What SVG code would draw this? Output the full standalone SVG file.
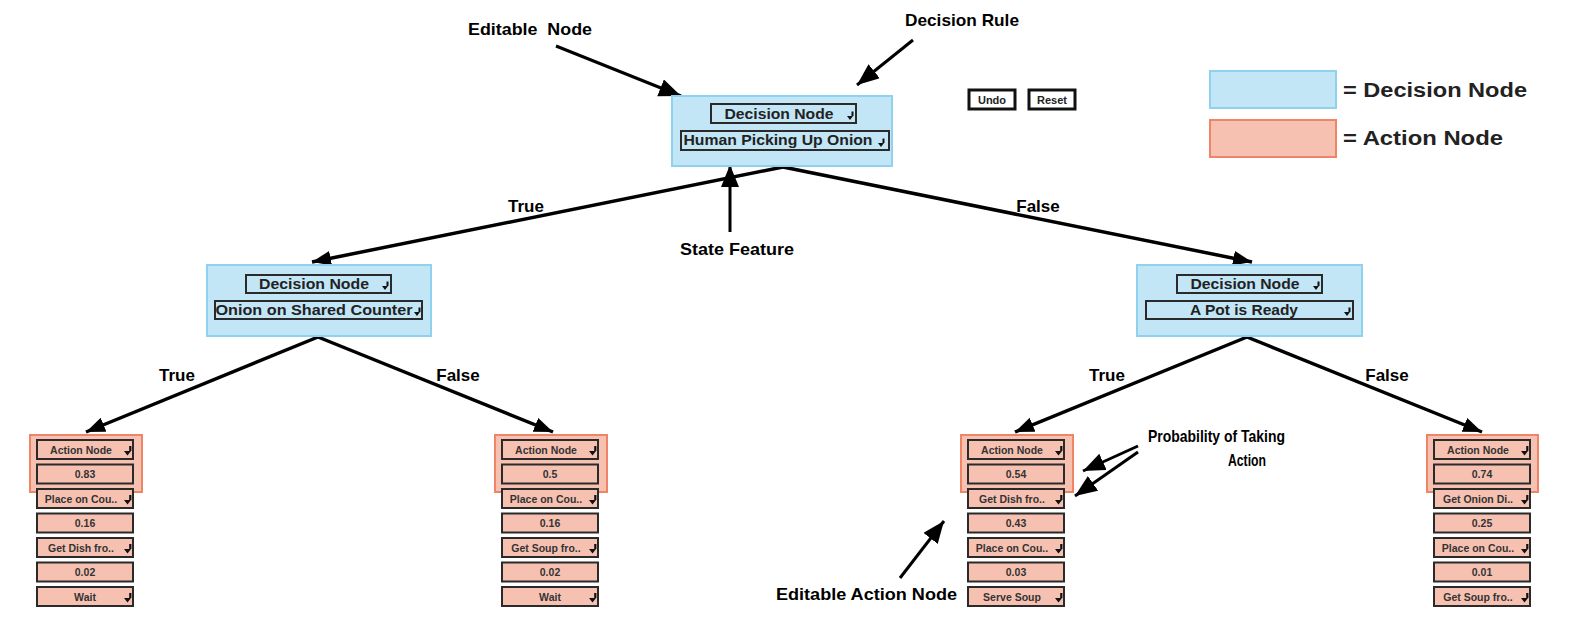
<svg xmlns="http://www.w3.org/2000/svg" width="1571" height="642" viewBox="0 0 1571 642">
<style>
.dec{fill:#c3e6f6;stroke:#8fd2f0;stroke-width:2}
.act{fill:#f7c1b1;stroke:#f08466;stroke-width:2}
.dd{fill:none;stroke:#2a2a2a;stroke-width:2}
.ddf{fill:#f7c1b1;stroke:#2a2a2a;stroke-width:2}
.t{font-family:"Liberation Sans",Arial,sans-serif;font-weight:bold;fill:#222}
.dt{font-size:15px;text-anchor:middle}
.at{font-size:10.5px;text-anchor:middle;fill:#333}
.lbl{font-family:"Liberation Sans",Arial,sans-serif;font-weight:bold;font-size:17px;fill:#000;white-space:pre}
.br{stroke:#000;stroke-width:3.5;fill:none}
.an{stroke:#000;stroke-width:3;fill:none}
.btn{fill:#fff;stroke:#111;stroke-width:3}
</style>
<defs>
<marker id="ah" markerUnits="userSpaceOnUse" markerWidth="22" markerHeight="16" refX="19" refY="7.5" orient="auto"><path d="M0,0 L19,7.5 L0,15 z" fill="#000"/></marker>
<marker id="ah2" markerUnits="userSpaceOnUse" markerWidth="24" markerHeight="20" refX="22" refY="9" orient="auto"><path d="M0,0 L22,9 L0,18 z" fill="#000"/></marker>
<path id="caret" d="M0,0h6l-3,4z M4.5,-4.5h2v4.5h-2z" fill="#111"/>
<path id="caret2" d="M0,0h7l-3.5,4.5z M5.2,-5h2.2v5h-2.2z" fill="#111"/>
</defs>

<g id="connectors">
<line class="br" x1="783" y1="167" x2="312" y2="262" marker-end="url(#ah)"/>
<line class="br" x1="783" y1="167" x2="1252" y2="262" marker-end="url(#ah)"/>
<line class="br" x1="318" y1="337" x2="86" y2="432" marker-end="url(#ah)"/>
<line class="br" x1="318" y1="337" x2="553" y2="432" marker-end="url(#ah)"/>
<line class="br" x1="1247" y1="337" x2="1015" y2="432" marker-end="url(#ah)"/>
<line class="br" x1="1247" y1="337" x2="1482" y2="432" marker-end="url(#ah)"/>
<text class="lbl" x="526" y="212" text-anchor="middle">True</text>
<text class="lbl" x="1038" y="212" text-anchor="middle">False</text>
<text class="lbl" x="177" y="381" text-anchor="middle">True</text>
<text class="lbl" x="458" y="381" text-anchor="middle">False</text>
<text class="lbl" x="1107" y="381" text-anchor="middle">True</text>
<text class="lbl" x="1387" y="381" text-anchor="middle">False</text>
</g>

<g id="annotations">
<line class="an" x1="556" y1="46" x2="681" y2="96" marker-end="url(#ah2)"/>
<text class="lbl" x="468" y="35" textLength="124" lengthAdjust="spacingAndGlyphs" xml:space="preserve">Editable  Node</text>
<line class="an" x1="913" y1="40" x2="857" y2="85" marker-end="url(#ah2)"/>
<text class="lbl" x="905" y="26" textLength="114" lengthAdjust="spacingAndGlyphs">Decision Rule</text>
<line class="an" x1="730" y1="232" x2="730" y2="165" marker-end="url(#ah2)"/>
<text class="lbl" x="680" y="255" textLength="114" lengthAdjust="spacingAndGlyphs">State Feature</text>
<line class="an" x1="1138" y1="446" x2="1083" y2="471" marker-end="url(#ah2)"/>
<line class="an" x1="1138" y1="452" x2="1075" y2="496" marker-end="url(#ah2)"/>
<text class="lbl" x="1148" y="442" textLength="137" lengthAdjust="spacingAndGlyphs">Probability of Taking</text>
<text class="lbl" x="1228" y="466" textLength="38" lengthAdjust="spacingAndGlyphs">Action</text>
<line class="an" x1="900" y1="578" x2="944" y2="521" marker-end="url(#ah2)"/>
<text class="lbl" x="776" y="600" textLength="181" lengthAdjust="spacingAndGlyphs">Editable Action Node</text>
</g>

<g id="legend">
<rect class="dec" x="1210" y="71" width="126" height="37"/>
<rect class="act" x="1210" y="120" width="126" height="37"/>
<text class="t" x="1343" y="97" font-size="20" textLength="184" lengthAdjust="spacingAndGlyphs" fill="#111">= Decision Node</text>
<text class="t" x="1343" y="145" font-size="20" textLength="160" lengthAdjust="spacingAndGlyphs" fill="#111">= Action Node</text>
</g>

<g id="buttons">
<rect class="btn" x="969" y="90" width="46" height="19"/>
<text class="t" x="992" y="104" font-size="11" text-anchor="middle">Undo</text>
<rect class="btn" x="1029" y="90" width="46" height="19"/>
<text class="t" x="1052" y="104" font-size="11" text-anchor="middle">Reset</text>
</g>

<g id="node-root">
<rect class="dec" x="672" y="96" width="220" height="70"/>
<rect class="dd" x="711" y="104" width="145" height="19"/>
<text class="t dt" x="779" y="119" textLength="109" lengthAdjust="spacingAndGlyphs">Decision Node</text>
<use href="#caret" x="847" y="116"/>
<rect class="dd" x="681" y="131" width="208" height="19"/>
<text class="t dt" x="778" y="145" textLength="189" lengthAdjust="spacingAndGlyphs">Human Picking Up Onion</text>
<use href="#caret" x="878" y="143"/>
</g>

<g id="node-left">
<rect class="dec" x="207" y="265" width="224" height="71"/>
<rect class="dd" x="246" y="275" width="145" height="18"/>
<text class="t dt" x="314" y="289" textLength="110" lengthAdjust="spacingAndGlyphs">Decision Node</text>
<use href="#caret" x="382" y="286"/>
<rect class="dd" x="215" y="301" width="207" height="18"/>
<text class="t dt" x="314" y="315" textLength="197" lengthAdjust="spacingAndGlyphs">Onion on Shared Counter</text>
<use href="#caret" x="414" y="312"/>
</g>

<g id="node-right">
<rect class="dec" x="1137" y="265" width="225" height="71"/>
<rect class="dd" x="1177" y="275" width="145" height="18"/>
<text class="t dt" x="1245" y="289" textLength="109" lengthAdjust="spacingAndGlyphs">Decision Node</text>
<use href="#caret" x="1313" y="286"/>
<rect class="dd" x="1146" y="301" width="207" height="18"/>
<text class="t dt" x="1244" y="315" textLength="108" lengthAdjust="spacingAndGlyphs">A Pot is Ready</text>
<use href="#caret" x="1344" y="312"/>
</g>

<g id="action-1">
<rect class="act" x="30" y="435" width="112" height="57"/>
<rect class="ddf" x="37" y="440" width="96" height="19"/><text class="t at" x="81" y="453.5">Action Node</text><use href="#caret2" x="124" y="451"/>
<rect class="ddf" x="37" y="464.5" width="96" height="19"/><text class="t at" x="85" y="478">0.83</text>
<rect class="ddf" x="37" y="489" width="96" height="19"/><text class="t at" x="81" y="502.5">Place on Cou..</text><use href="#caret2" x="124" y="500"/>
<rect class="ddf" x="37" y="513.5" width="96" height="19"/><text class="t at" x="85" y="527">0.16</text>
<rect class="ddf" x="37" y="538" width="96" height="19"/><text class="t at" x="81" y="551.5">Get Dish fro..</text><use href="#caret2" x="124" y="549"/>
<rect class="ddf" x="37" y="562.5" width="96" height="19"/><text class="t at" x="85" y="576">0.02</text>
<rect class="ddf" x="37" y="587" width="96" height="19"/><text class="t at" x="85" y="600.5">Wait</text><use href="#caret2" x="124" y="598"/>
</g>

<g id="action-2">
<rect class="act" x="495" y="435" width="112" height="57"/>
<rect class="ddf" x="502" y="440" width="96" height="19"/><text class="t at" x="546" y="453.5">Action Node</text><use href="#caret2" x="589" y="451"/>
<rect class="ddf" x="502" y="464.5" width="96" height="19"/><text class="t at" x="550" y="478">0.5</text>
<rect class="ddf" x="502" y="489" width="96" height="19"/><text class="t at" x="546" y="502.5">Place on Cou..</text><use href="#caret2" x="589" y="500"/>
<rect class="ddf" x="502" y="513.5" width="96" height="19"/><text class="t at" x="550" y="527">0.16</text>
<rect class="ddf" x="502" y="538" width="96" height="19"/><text class="t at" x="546" y="551.5">Get Soup fro..</text><use href="#caret2" x="589" y="549"/>
<rect class="ddf" x="502" y="562.5" width="96" height="19"/><text class="t at" x="550" y="576">0.02</text>
<rect class="ddf" x="502" y="587" width="96" height="19"/><text class="t at" x="550" y="600.5">Wait</text><use href="#caret2" x="589" y="598"/>
</g>

<g id="action-3">
<rect class="act" x="961" y="435" width="112" height="57"/>
<rect class="ddf" x="968" y="440" width="96" height="19"/><text class="t at" x="1012" y="453.5">Action Node</text><use href="#caret2" x="1055" y="451"/>
<rect class="ddf" x="968" y="464.5" width="96" height="19"/><text class="t at" x="1016" y="478">0.54</text>
<rect class="ddf" x="968" y="489" width="96" height="19"/><text class="t at" x="1012" y="502.5">Get Dish fro..</text><use href="#caret2" x="1055" y="500"/>
<rect class="ddf" x="968" y="513.5" width="96" height="19"/><text class="t at" x="1016" y="527">0.43</text>
<rect class="ddf" x="968" y="538" width="96" height="19"/><text class="t at" x="1012" y="551.5">Place on Cou..</text><use href="#caret2" x="1055" y="549"/>
<rect class="ddf" x="968" y="562.5" width="96" height="19"/><text class="t at" x="1016" y="576">0.03</text>
<rect class="ddf" x="968" y="587" width="96" height="19"/><text class="t at" x="1012" y="600.5">Serve Soup</text><use href="#caret2" x="1055" y="598"/>
</g>

<g id="action-4">
<rect class="act" x="1427" y="435" width="111" height="57"/>
<rect class="ddf" x="1434" y="440" width="96" height="19"/><text class="t at" x="1478" y="453.5">Action Node</text><use href="#caret2" x="1521" y="451"/>
<rect class="ddf" x="1434" y="464.5" width="96" height="19"/><text class="t at" x="1482" y="478">0.74</text>
<rect class="ddf" x="1434" y="489" width="96" height="19"/><text class="t at" x="1478" y="502.5">Get Onion Di..</text><use href="#caret2" x="1521" y="500"/>
<rect class="ddf" x="1434" y="513.5" width="96" height="19"/><text class="t at" x="1482" y="527">0.25</text>
<rect class="ddf" x="1434" y="538" width="96" height="19"/><text class="t at" x="1478" y="551.5">Place on Cou..</text><use href="#caret2" x="1521" y="549"/>
<rect class="ddf" x="1434" y="562.5" width="96" height="19"/><text class="t at" x="1482" y="576">0.01</text>
<rect class="ddf" x="1434" y="587" width="96" height="19"/><text class="t at" x="1478" y="600.5">Get Soup fro..</text><use href="#caret2" x="1521" y="598"/>
</g>
</svg>
